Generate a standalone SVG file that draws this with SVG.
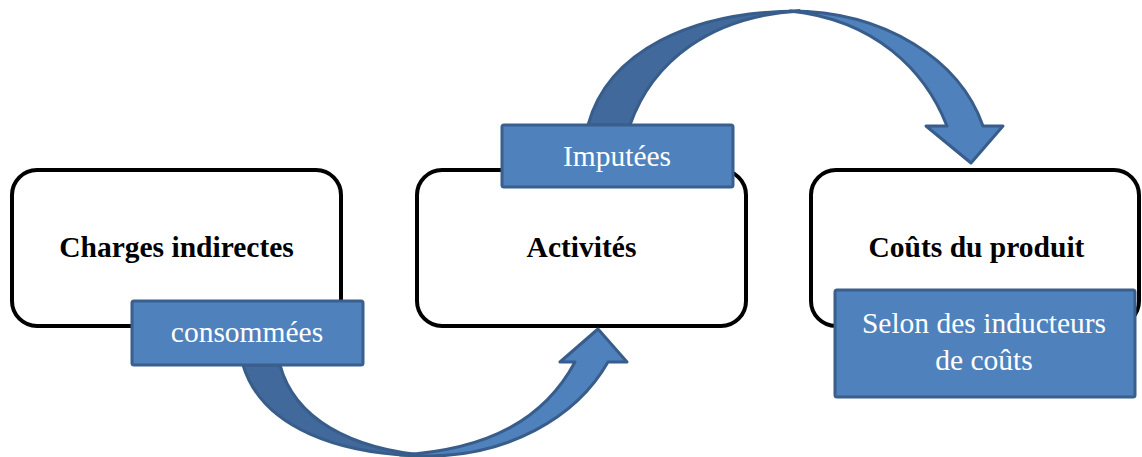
<svg xmlns="http://www.w3.org/2000/svg" width="1142" height="457" viewBox="0 0 1142 457">
<style>
.node{fill:#ffffff;stroke:#000000;stroke-width:4}
.title{font-family:"Liberation Serif","Times New Roman",serif;font-weight:bold;font-size:29.5px;fill:#000000;text-anchor:middle}
.tag{fill:#4F81BD;stroke:#3A5F8B;stroke-width:3}
.tagtext{font-family:"Liberation Serif","Times New Roman",serif;font-size:29.5px;fill:#ffffff;text-anchor:middle}
.front{fill:#4F81BD;stroke:#385D8A;stroke-width:3;stroke-linejoin:round}
.back{fill:#41699B;stroke:#385D8A;stroke-width:3;stroke-linejoin:round}
</style>
<rect width="1142" height="457" fill="#ffffff"/>
<g id="node-charges">
<rect class="node" x="12" y="170" width="329" height="156" rx="25"/>
<text class="title" x="176.5" y="257">Charges indirectes</text>
</g>
<g id="node-activites">
<rect class="node" x="417" y="170" width="329" height="156" rx="25"/>
<text class="title" x="581.5" y="257">Activités</text>
</g>
<g id="node-couts">
<rect class="node" x="811" y="170" width="328" height="156" rx="25"/>
<text class="title" x="976.5" y="257">Coûts du produit</text>
</g>
<g id="connectors">
<g id="arrow-lower">
<path class="back" d="M243,365 C262,428 340,456 432,456 C350,450 294,418 280,365 Z"/>
<path class="front" d="M400,455 C418,456 426,456 432,456 C505,455 575,420 608,362 L627,362 L598,329 L560,362 L575,362 C545,418 490,450 400,455 Z"/>
</g>
<g id="arrow-upper">
<path class="back" d="M588,125 C608,52 690,11 800,11 C710,16 652,62 630,125 Z"/>
<path class="front" d="M790,11 C885,11 960,60 983,126 L1003,126 L971,163 L926,126 L947,126 C925,70 875,20 790,11 Z"/>
</g>
</g>
<g id="label-consommees">
<rect class="tag" x="132" y="301" width="231" height="64" rx="2"/>
<text class="tagtext" x="247" y="342">consommées</text>
</g>
<g id="label-imputees">
<rect class="tag" x="502" y="125" width="231" height="62" rx="2"/>
<text class="tagtext" x="617" y="166">Imputées</text>
</g>
<g id="label-selon">
<rect class="tag" x="835" y="290" width="300" height="107" rx="2"/>
<text class="tagtext" x="984" y="333">Selon des inducteurs</text>
<text class="tagtext" x="984" y="370">de coûts</text>
</g>
</svg>
